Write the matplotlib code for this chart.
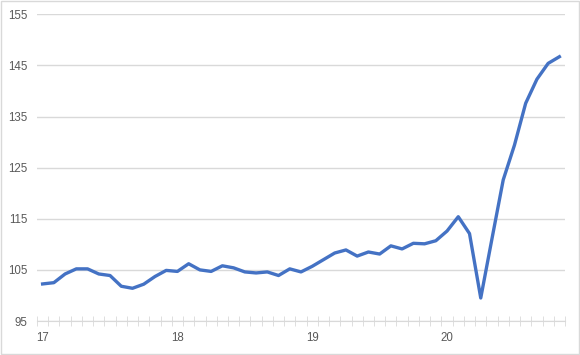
import numpy as np
import matplotlib
matplotlib.use("Agg")
import matplotlib.pyplot as plt
from matplotlib.patches import Rectangle

# monthly index values, Jan 2017 .. Nov 2020
values = [102.25, 102.5, 104.2, 105.2, 105.2, 104.2, 103.9, 101.8, 101.4, 102.2,
          103.7, 104.9, 104.7, 106.2, 105.0, 104.7, 105.8, 105.4, 104.6, 104.4,
          104.6, 103.9, 105.2, 104.6, 105.7, 107.0, 108.3, 108.9, 107.7, 108.5,
          108.1, 109.7, 109.1, 110.2, 110.1, 110.7, 112.6, 115.4, 112.1, 99.5,
          111.1, 122.6, 129.4, 137.6, 142.3, 145.4, 146.7]
year_labels = ["17", "18", "19", "20"]
y_ticks = [95, 105, 115, 125, 135, 145, 155]

grid_col = "#d9d9d9"
text_col = "#595959"

plt.rcParams['font.family'] = ['Liberation Sans', 'DejaVu Sans']

fig = plt.figure(figsize=(5.8, 3.55), dpi=100)
ax = fig.add_axes([37 / 580, (355 - 321) / 355, (565 - 37) / 580, (321 - 14.3) / 355])

x = np.arange(len(values))
ax.plot(x, values, color="#4472C4", lw=2.4, solid_joinstyle="round")

ax.set_xlim(-0.5, len(values) - 0.5)
ax.set_ylim(95, 155)
ax.set_yticks(y_ticks)
ax.set_yticklabels([str(t) for t in y_ticks])
ax.yaxis.grid(True, color=grid_col, lw=1)
ax.set_axisbelow(True)

ax.set_xticks(np.arange(0, len(values), 12))
ax.set_xticklabels(year_labels)
ax.set_xticks(np.arange(-0.5, len(values), 1), minor=True)

for s in ["left", "right", "top"]:
    ax.spines[s].set_visible(False)
ax.spines["bottom"].set_color(grid_col)

ax.tick_params(axis="y", length=0, labelsize=8.3, labelcolor=text_col, pad=7)
ax.tick_params(axis="x", which="major", length=0, labelsize=8.3, labelcolor=text_col, pad=8)
ax.tick_params(axis="x", which="minor", direction="inout", length=7, color=grid_col)

fig.patches.append(Rectangle((0.001, 0.002), 0.997, 0.995, transform=fig.transFigure,
                             fill=False, edgecolor=grid_col, lw=1))

fig.savefig("out.png", dpi=100)
